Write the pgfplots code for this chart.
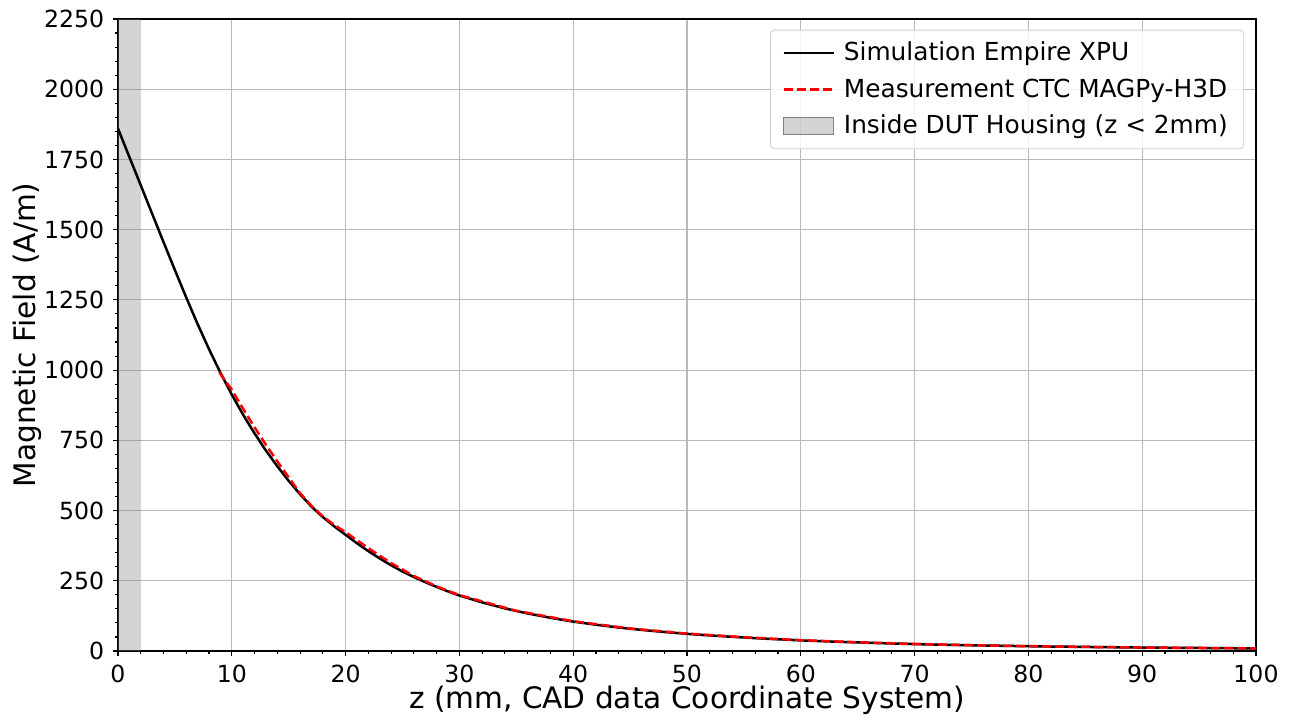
\documentclass[border=0pt]{standalone}
\usepackage{pgfplots}
\pgfplotsset{compat=1.18}
\usepackage{fontspec}
\setmainfont{DejaVu Sans}

\definecolor{mplred}{HTML}{FF0000}

\begin{document}
\begin{tikzpicture}
\begin{axis}[
    scale only axis,
    width=569pt,
    height=316pt,
    xmin=0, xmax=100,
    ymin=0, ymax=2250,
    xtick={0,10,...,100},
    ytick={0,250,...,2250},
    minor x tick num=4,
    minor y tick num=4,
    tick pos=left,
    tick align=outside,
    major tick length=2.4pt,
    minor tick length=1.4pt,
    every tick/.style={black, line width=0.55pt},
    axis line style={line width=0.6pt},
    grid=major,
    major grid style={gray!55, line width=0.55pt},
    /pgf/number format/1000 sep={},
    /pgf/number format/assume math mode=true,
    ticklabel style={font=\fontsize{11.8}{13}\selectfont},
    xticklabel style={yshift=-1pt},
    yticklabel style={xshift=-1pt},
    xlabel={z (mm, CAD data Coordinate System)},
    ylabel={Magnetic Field (A/m)},
    label style={font=\fontsize{14.8}{17}\selectfont},
    xlabel style={at={(axis description cs:0.5,0)}, anchor=center, yshift=-24.5pt},
    ylabel style={at={(axis description cs:0,0.5)}, anchor=center, yshift=45.5pt},
    legend cell align=left,
    legend style={font=\fontsize{12.4}{14}\selectfont, draw=black!20, rounded corners=2pt,
        fill=white, fill opacity=0.8, text opacity=1, at={(0.9895,0.983)}, anchor=north east,
        inner xsep=6pt, inner ysep=4pt, row sep=3.4pt, column sep=2.5pt},
    legend image code/.code={\draw[#1] (0pt,0pt) -- (25pt,0pt);},
]
\coordinate (bl) at (rel axis cs:0,0);
\coordinate (tr) at (rel axis cs:1,1);

% housing band
\addplot[draw=none, fill=gray, fill opacity=0.34, forget plot] coordinates {(0,2250) (2,2250)} \closedcycle;

% simulation
\addplot[black, line width=1.25pt] coordinates {
(0,1860) (1,1758.6) (2,1658.0) (3,1556.7) (4,1455.8) (5,1356.2) (6,1258.1) (7,1163.6)
(8,1074.3) (9,990.7) (10,912.7) (11,840.7) (12,774.5) (13,713.6) (14,657.5) (15,605.7)
(16,558.0) (17,514.1) (18,477.0) (19,443.8) (20,413.8) (21,383.5) (22,355.5) (23,329.4)
(24,305.3) (25,283.0) (26,263.3) (27,245.0) (28,228.0) (29,212.1) (30,197.4) (32,173.0)
(34,151.6) (36,133.6) (38,118.2) (40,104.6) (42,93.5) (44,83.6) (46,75.1) (48,67.7)
(50,61.0) (52,55.4) (54,50.4) (56,45.7) (58,41.6) (60,37.8) (62,34.7) (64,31.8)
(66,29.2) (68,26.8) (70,24.6) (72,22.8) (74,21.2) (76,19.7) (78,18.3) (80,17.0)
(82,15.9) (84,14.9) (86,14.0) (88,13.1) (90,12.3) (92,11.6) (94,11.0) (96,10.4)
(98,9.8) (100,9.3)
};
\addlegendentry{Simulation Empire XPU}

% measurement
\addplot[mplred, line width=1.25pt, dash pattern=on 4.5pt off 2pt] coordinates {
(8.9,992) (10,930) (11,862) (12,796) (13,734) (14,675) (15,618) (16,562) (17,517)
(18,479) (19,449) (20,423) (22,366) (24,313) (26,267) (28,230) (30,199) (35,143)
(40,106) (45,80) (50,62) (55,49) (60,38.5) (65,31) (70,25) (75,20.5) (80,17.3)
(85,14.6) (90,12.5) (95,10.9) (100,9.5)
};
\addlegendentry{Measurement CTC MAGPy-H3D}

\addlegendimage{legend image code/.code={\fill[gray, fill opacity=0.34, sharp corners] (0pt,-4pt) rectangle (25pt,4pt);}}
\addlegendentry{Inside DUT Housing (z < 2mm)}
\end{axis}
\pgfresetboundingbox
\path (bl) ++(-59pt,-35.5pt);
\path (tr) ++(17.5pt,9.5pt);
\end{tikzpicture}
\end{document}
